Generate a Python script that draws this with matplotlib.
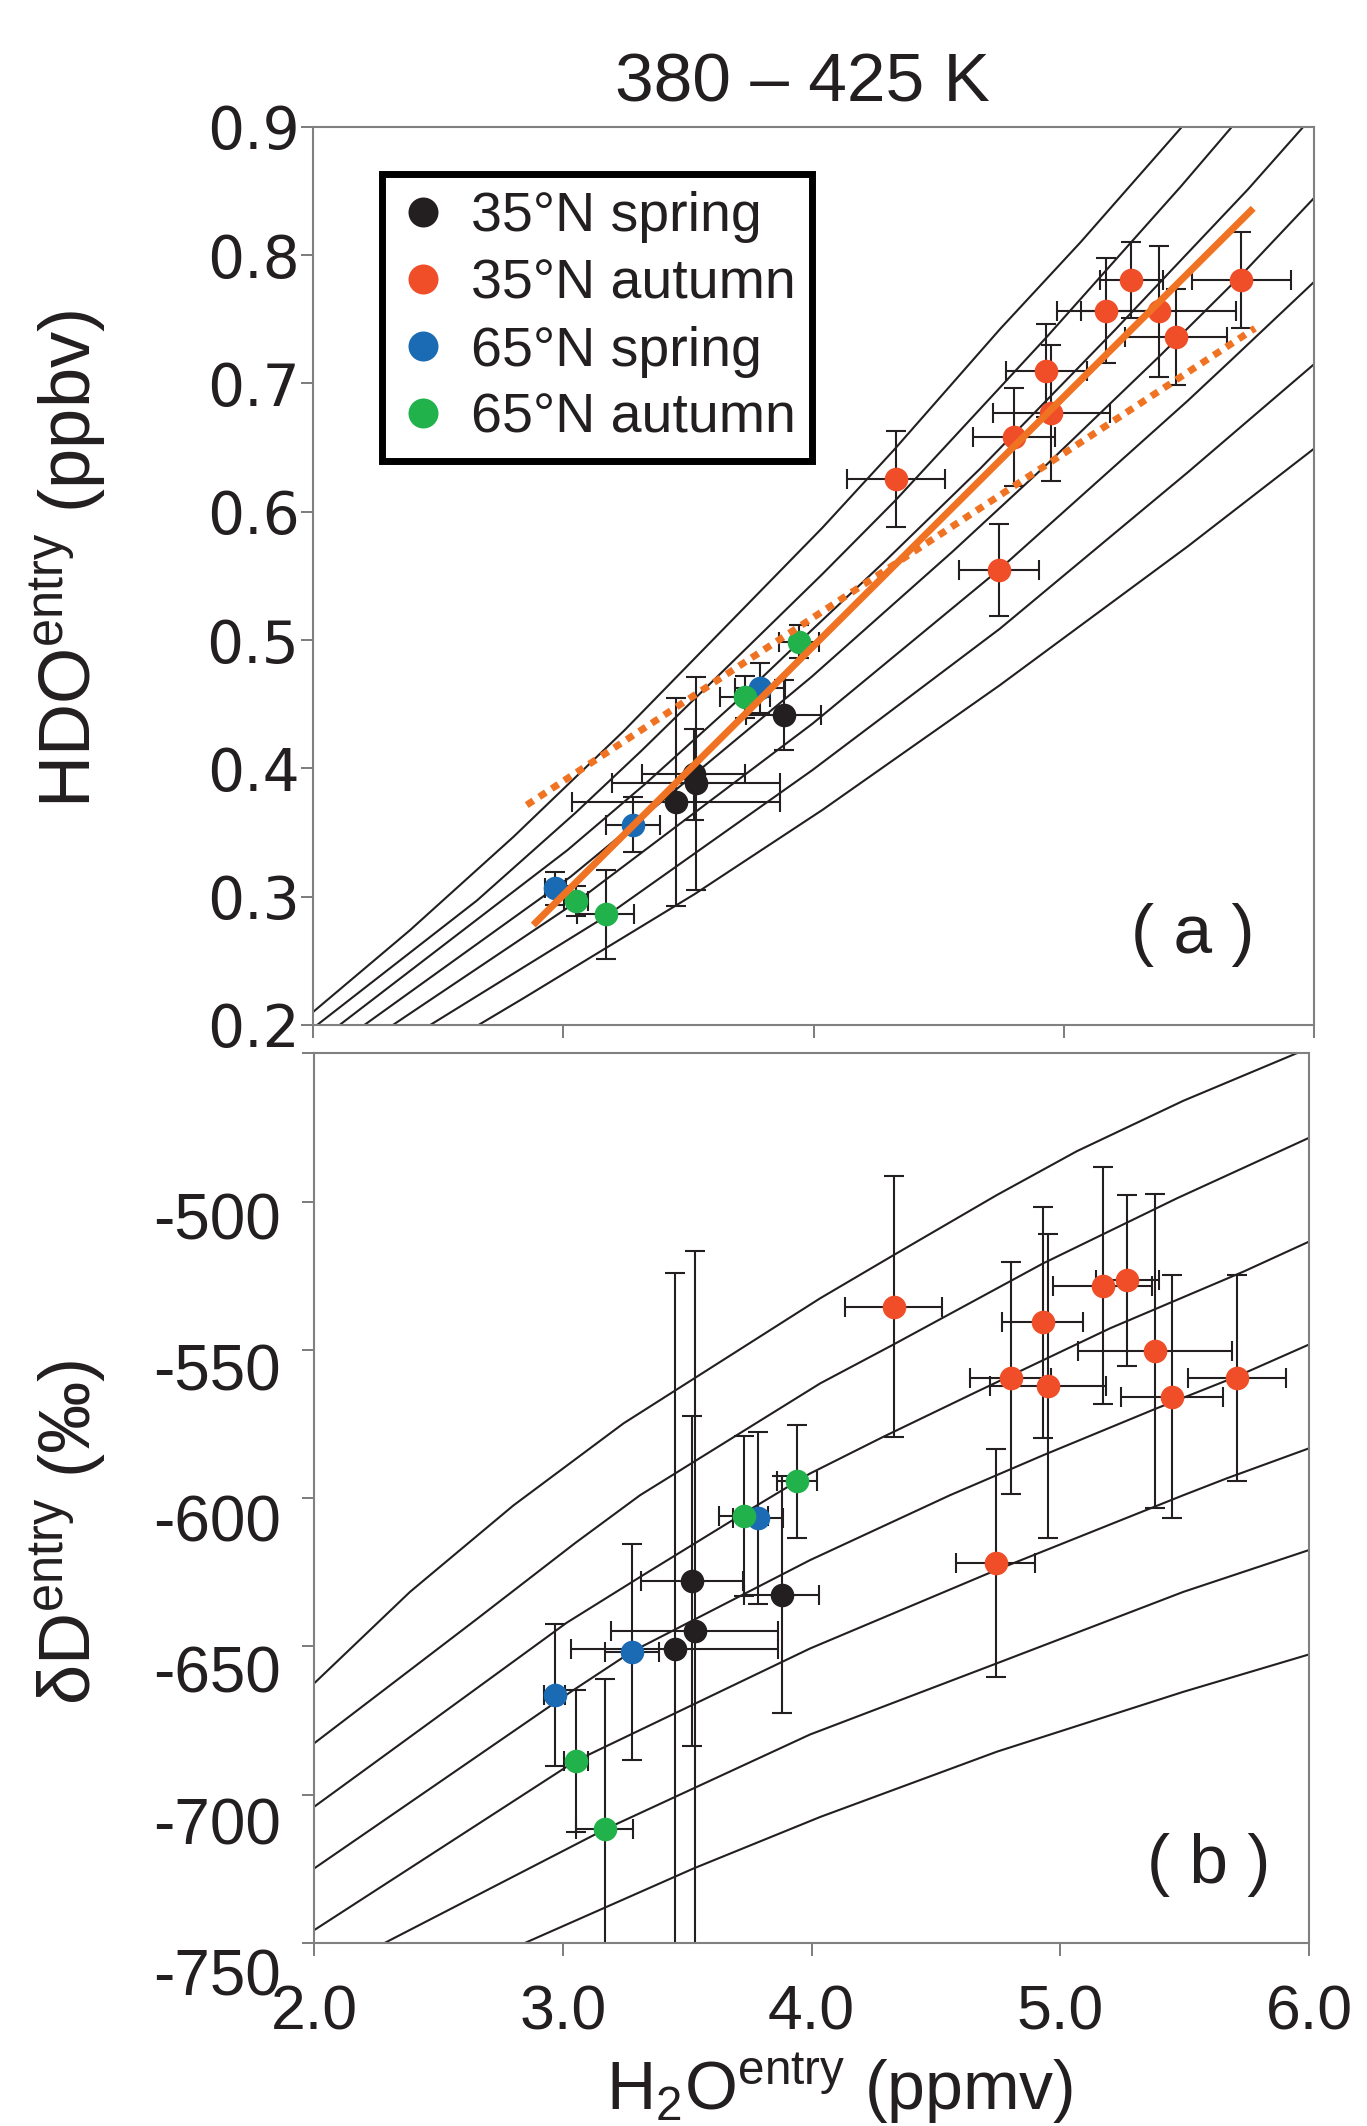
import numpy as np
import matplotlib
matplotlib.use('Agg')
import matplotlib.pyplot as plt
from matplotlib.lines import Line2D
from matplotlib.transforms import ScaledTranslation

plt.rcParams['font.family'] = ['Liberation Sans', 'DejaVu Sans']
plt.rcParams['mathtext.fontset'] = 'custom'
plt.rcParams['mathtext.rm'] = 'Liberation Sans'
plt.rcParams['mathtext.it'] = 'Liberation Sans:italic'
plt.rcParams['mathtext.bf'] = 'Liberation Sans:bold'

# ---- model curves, panel (b): dD (permil) vs H2O (ppmv)
curves_b_x = [
    [2.0, 2.386, 2.801, 3.244, 4.035, 4.325, 4.745, 5.067, 5.495, 5.95],
    [2.0, 2.654, 3.049, 3.311, 4.035, 4.325, 4.932, 5.469, 6.0],
    [2.0, 3.016, 3.324, 3.726, 3.994, 4.289, 4.665, 5.201, 5.737, 6.0],
    [2.0, 3.029, 3.275, 3.994, 4.557, 4.932, 5.388, 5.706, 6.0],
    [2.0, 3.052, 3.994, 4.741, 5.495, 5.670, 6.0],
    [2.279, 3.169, 3.994, 4.745, 5.495, 6.0],
    [2.842, 3.525, 4.035, 4.745, 5.495, 6.0],
]
curves_b_dD = [
    [-662.5, -631.6, -602.5, -574.8, -532.6, -518.3, -497.8, -483.0, -466.0, -450.0],
    [-682.7, -640.8, -615.2, -599.0, -561.3, -548.4, -520.8, -498.9, -478.5],
    [-704.1, -642.0, -625.9, -605.2, -591.7, -579.3, -564.1, -542.7, -523.6, -513.5],
    [-724.9, -665.5, -651.9, -620.9, -599.0, -585.5, -569.7, -559.1, -548.2],
    [-745.7, -688.6, -650.7, -624.3, -599.0, -593.3, -583.2],
    [-750.2, -711.7, -679.7, -655.7, -631.6, -617.5],
    [-750.2, -724.9, -707.5, -685.5, -665.3, -652.7],
]

# ---- model curves, panel (a): HDO (ppbv) vs H2O (ppmv)
curves_a_x = [
    [2.0, 2.386, 2.801, 3.244, 4.035, 4.325, 4.745, 5.067, 5.495],
    [2.0, 2.654, 3.049, 3.311, 4.035, 4.325, 4.932, 5.469, 6.0],
    [2.0, 3.016, 3.324, 3.726, 3.994, 4.289, 4.665, 5.201, 5.737, 6.0],
    [2.0, 3.029, 3.275, 3.994, 4.557, 4.932, 5.388, 5.706, 6.0],
    [2.0, 3.052, 3.994, 4.741, 5.495, 5.670, 6.0],
    [2.279, 3.169, 3.994, 4.745, 5.495, 6.0],
    [2.6, 2.842, 3.525, 4.035, 4.745, 5.495, 6.0],
]
curves_a_hdo = [
    [0.2103, 0.2738, 0.3468, 0.4297, 0.5875, 0.6490, 0.7423, 0.8100, 0.9050],
    [0.1977, 0.2970, 0.3655, 0.4136, 0.5514, 0.6084, 0.7362, 0.8537, 0.9747],
    [0.1843, 0.3363, 0.3874, 0.4582, 0.5080, 0.5621, 0.6334, 0.7409, 0.8514, 0.9093],
    [0.1714, 0.3156, 0.3551, 0.4717, 0.5692, 0.6368, 0.7222, 0.7837, 0.8444],
    [0.1584, 0.2960, 0.4346, 0.5548, 0.6864, 0.7183, 0.7790],
    [0.1773, 0.2846, 0.3985, 0.5089, 0.6306, 0.7149],
    [0.193, 0.2211, 0.3021, 0.3676, 0.4649, 0.5729, 0.6491],
]

# ---- fits in panel (a)
fit_x = [2.879, 5.757]
fit_hdo = [0.2779, 0.8364]
fit2_x = [2.853, 5.764]
fit2_hdo = [0.3714, 0.7429]

# ---- observations
labels = ['35°N spring', '35°N autumn', '65°N spring', '65°N autumn']
colors = ['#231F20', '#F04E29', '#1B6AB4', '#22B24C']

h2o = [
    [3.45, 3.52, 3.53, 3.88],
    [4.33, 4.74, 4.80, 4.93, 4.95, 5.17, 5.27, 5.38, 5.45, 5.71],
    [2.967, 3.278, 3.786],
    [3.052, 3.168, 3.727, 3.943],
]
h2o_err = [
    [0.415, 0.205, 0.336, 0.15],
    [0.195, 0.16, 0.163, 0.163, 0.234, 0.198, 0.125, 0.31, 0.204, 0.198],
    [0.042, 0.107, 0.1],
    [0.048, 0.115, 0.1, 0.08],
]
hdo = [
    [0.3735, 0.3953, 0.3884, 0.4416],
    [0.6255, 0.5546, 0.6584, 0.7099, 0.6767, 0.7566, 0.7805, 0.756, 0.7359, 0.7805],
    [0.3065, 0.3559, 0.4624],
    [0.2966, 0.2863, 0.4558, 0.4987],
]
hdo_err = [
    [0.081, 0.0355, 0.083, 0.0275],
    [0.0377, 0.0357, 0.038, 0.036, 0.053, 0.041, 0.0296, 0.051, 0.0374, 0.0377],
    [0.0127, 0.0214, 0.0195],
    [0.012, 0.0347, 0.0164, 0.013],
]
dD = [
    [-651.0, -628.0, -644.8, -632.5],
    [-535.5, -621.8, -559.4, -540.7, -562.2, -528.4, -526.6, -550.4, -565.8, -559.4],
    [-666.4, -651.9, -606.6],
    [-688.6, -711.7, -606.0, -594.3],
]
dD_err = [
    [127, 55.6, 128, 40],
    [44, 38.4, 39.1, 39, 51.4, 40, 28.9, 53, 41, 34.7],
    [24, 36.5, 29],
    [24, 50.7, 27, 19],
]

W, H = 1367, 2126
ink = '#231F20'
orange = '#F07324'
spine_col = '#808080'

fig = plt.figure(figsize=(W / 100, H / 100), dpi=100)
ax_a = fig.add_axes([313.3 / W, 1 - 1025 / H, (1314 - 313.3) / W, (1025 - 126.7) / H])
ax_b = fig.add_axes([314 / W, 1 - 1943 / H, (1309 - 314) / W, (1943 - 1053.3) / H])

### panel (a)
for cx, cy in zip(curves_a_x, curves_a_hdo):
    ax_a.plot(cx, cy, color=ink, lw=1.5, zorder=1)
for x, y, xe, ye in zip(h2o, hdo, h2o_err, hdo_err):
    ax_a.errorbar(x, y, xerr=xe, yerr=ye, fmt='none', ecolor=ink, elinewidth=1.5,
                  capsize=7, capthick=1.5, zorder=2)
for x, y, c in zip(h2o, hdo, colors):
    ax_a.plot(x, y, 'o', color=c, ms=17, mec='none', zorder=3)
ax_a.plot(fit_x, fit_hdo, color=orange, lw=5, solid_capstyle='butt', zorder=4)
ax_a.plot(fit2_x, fit2_hdo, color=orange, lw=5, ls=(0, (1.15, 1.0)),
          dash_capstyle='butt', zorder=4)

ax_a.set_xlim(2, 6)
ax_a.set_ylim(0.2, 0.9)
ax_a.set_xticks([2, 3, 4, 5, 6])
ax_a.set_yticks(np.round(np.arange(0.2, 0.91, 0.1), 1))
ax_a.set_yticklabels(['%.1f' % v for v in np.arange(0.2, 0.91, 0.1)],
                     family='DejaVu Sans', fontsize=42, color=ink)
ax_a.tick_params(axis='x', labelbottom=False)

handles = [Line2D([], [], ls='none', marker='o', ms=21.6, color=c, mec='none') for c in colors]
leg = ax_a.legend(handles, labels, loc='upper left',
                  bbox_to_anchor=(381.7 / W, 1 - 174.3 / H), bbox_transform=fig.transFigure,
                  borderaxespad=0, fontsize=40, fancybox=False, framealpha=1,
                  edgecolor='black', borderpad=0.3, labelspacing=0.275,
                  handlelength=0.9, handletextpad=0.4)
leg.get_frame().set_linewidth(5)
for t in leg.get_texts():
    t.set_color(ink)

### panel (b)
for cx, cy in zip(curves_b_x, curves_b_dD):
    ax_b.plot(cx, cy, color=ink, lw=1.5, zorder=1)
for x, y, xe, ye in zip(h2o, dD, h2o_err, dD_err):
    ax_b.errorbar(x, y, xerr=xe, yerr=ye, fmt='none', ecolor=ink, elinewidth=1.5,
                  capsize=7, capthick=1.5, zorder=2)
for x, y, c in zip(h2o, dD, colors):
    ax_b.plot(x, y, 'o', color=c, ms=17, mec='none', zorder=3)

ax_b.set_xlim(2, 6)
ax_b.set_ylim(-750, -450)
ax_b.set_xticks([2, 3, 4, 5, 6])
ax_b.set_xticklabels(['2.0', '3.0', '4.0', '5.0', '6.0'], fontsize=45, color=ink)
ax_b.set_yticks([-750, -700, -650, -600, -550, -500, -450])
ax_b.set_yticklabels(['-750', '-700', '-650', '-600', '-550', '-500', ''], fontsize=46, color=ink)

for ax in (ax_a, ax_b):
    for s in ax.spines.values():
        s.set_color(spine_col)
        s.set_linewidth(1.5)
    ax.tick_params(direction='out', length=9, width=1.2, color='#666666')
ax_a.tick_params(axis='y', pad=1)
ax_b.tick_params(axis='y', pad=15)
ax_b.tick_params(axis='x', pad=20)

# the lower labels of (b) sit a little below their ticks
for lbl, dy in zip(ax_b.get_yticklabels(), [29, 26, 23, 20, 17, 14, 0]):
    lbl.set_transform(lbl.get_transform() + ScaledTranslation(0, -dy / 100, fig.dpi_scale_trans))

### text
fig.text(802 / W, 1 - 102 / H, '380 – 425 K', ha='center', va='baseline', fontsize=50, color=ink)
fig.text(68 / W, 1 - 559 / H, r'HDO$^{\mathrm{entry}}$ (ppbv)', rotation=90,
         ha='center', va='center', fontsize=52, color=ink)
fig.text(68 / W, 1 - 1532 / H, r'δD$^{\mathrm{entry}}$ (‰)', rotation=90,
         ha='center', va='center', fontsize=52, color=ink)
fig.text(840 / W, 1 - 2110 / H, r'H$_{\mathrm{2}}$O$^{\mathrm{entry}}$ (ppmv)',
         ha='center', va='baseline', fontsize=49, color=ink)
fig.text(1193 / W, 1 - 953 / H, '( a )', ha='center', va='baseline', fontsize=50, color=ink)
fig.text(1209 / W, 1 - 1883 / H, '( b )', ha='center', va='baseline', fontsize=50, color=ink)

fig.savefig('out.png', dpi=100)
